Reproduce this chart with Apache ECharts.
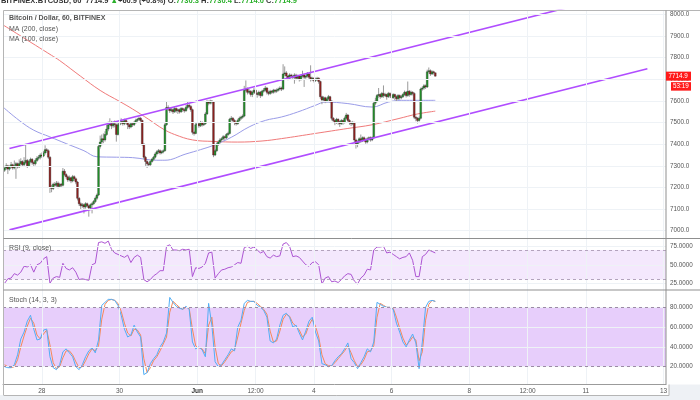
<!DOCTYPE html>
<html>
<head>
<meta charset="utf-8">
<script src="https://cdn.jsdelivr.net/npm/echarts@6/dist/echarts.min.js"></script>
<style>html,body{margin:0;padding:0;background:#fff}#c{width:700px;height:400px}</style>
</head>
<body>
<div id="c"></div>
<script>
// ---------------- DATA ----------------
// hours are counted from 1 Jun 00:00; first candle at hour -119 (27 May 01:00), hourly
const CANDLE_START_HOUR = -119;
// [open, close, low, high]
const candles = [
[7280,7290,7272,7300],[7290,7300,7282,7312],[7300,7285,7262,7305],[7285,7295,7278,7302],[7295,7305,7288,7318],[7305,7290,7282,7310],[7290,7300,7284,7325],[7300,7310,7240,7318],[7310,7295,7288,7315],[7295,7310,7290,7330],
[7310,7320,7302,7335],[7320,7305,7298,7326],[7305,7315,7296,7340],[7315,7325,7308,7400],[7325,7300,7290,7332],[7300,7320,7295,7328],[7320,7330,7312,7338],[7330,7315,7305,7336],[7315,7310,7295,7322],[7310,7325,7302,7335],
[7325,7335,7318,7345],[7335,7340,7326,7350],[7340,7350,7330,7358],[7350,7345,7336,7362],[7345,7360,7340,7368],[7360,7375,7352,7395],[7375,7370,7360,7382],[7370,7340,7332,7376],[7340,7200,7175,7345],[7200,7195,7178,7212],
[7195,7215,7188,7222],[7215,7210,7200,7225],[7210,7220,7202,7230],[7220,7205,7196,7228],[7205,7215,7198,7222],[7215,7210,7200,7220],[7210,7275,7205,7290],[7275,7260,7252,7285],[7260,7250,7240,7266],[7250,7235,7226,7256],
[7235,7245,7228,7255],[7245,7230,7220,7250],[7230,7250,7224,7258],[7250,7240,7230,7256],[7240,7225,7215,7246],[7225,7150,7140,7230],[7150,7125,7115,7156],[7125,7115,7100,7132],[7115,7120,7106,7128],[7120,7110,7080,7126],
[7110,7125,7102,7132],[7125,7115,7108,7130],[7115,7105,7065,7120],[7105,7120,7098,7126],[7120,7125,7080,7132],[7125,7135,7118,7142],[7135,7150,7128,7158],[7150,7165,7142,7172],[7165,7390,7160,7400],[7390,7410,7380,7440],
[7410,7425,7395,7445],[7425,7420,7405,7450],[7420,7445,7412,7460],[7445,7470,7438,7490],[7470,7490,7460,7505],[7490,7500,7482,7520],[7500,7485,7470,7508],[7485,7495,7476,7506],[7495,7490,7478,7510],[7490,7445,7412,7496],
[7445,7490,7440,7498],[7490,7500,7484,7525],[7500,7505,7492,7520],[7505,7495,7486,7512],[7495,7510,7488,7518],[7510,7500,7492,7516],[7500,7490,7470,7506],[7490,7480,7470,7496],[7480,7495,7474,7502],[7495,7490,7480,7500],
[7490,7500,7484,7508],[7500,7510,7494,7518],[7510,7515,7502,7522],[7515,7520,7508,7528],[7520,7510,7500,7526],[7510,7400,7392,7514],[7400,7340,7330,7406],[7340,7320,7300,7346],[7320,7310,7290,7326],[7310,7305,7296,7318],
[7305,7320,7300,7326],[7320,7330,7314,7336],[7330,7340,7322,7346],[7340,7355,7334,7362],[7355,7365,7348,7372],[7365,7370,7356,7378],[7370,7360,7352,7376],[7360,7365,7354,7372],[7365,7370,7358,7376],[7370,7490,7366,7498],
[7490,7570,7485,7600],[7570,7565,7555,7580],[7565,7555,7545,7572],[7555,7560,7548,7568],[7560,7550,7540,7566],[7550,7565,7545,7574],[7565,7555,7546,7570],[7555,7560,7540,7566],[7560,7550,7542,7565],[7550,7565,7545,7572],
[7565,7560,7550,7570],[7560,7555,7546,7566],[7555,7570,7550,7580],[7570,7580,7562,7600],[7580,7575,7566,7588],[7575,7560,7550,7582],[7560,7455,7445,7565],[7455,7450,7440,7462],[7450,7490,7446,7498],[7490,7495,7482,7502],
[7495,7485,7476,7500],[7485,7500,7480,7508],[7500,7490,7482,7506],[7490,7495,7484,7502],[7495,7540,7490,7548],[7540,7595,7535,7605],[7595,7590,7580,7602],[7590,7600,7584,7606],[7600,7595,7585,7604],[7595,7350,7340,7598],
[7350,7370,7345,7378],[7370,7400,7364,7408],[7400,7410,7392,7418],[7410,7420,7402,7428],[7420,7425,7412,7432],[7425,7435,7418,7442],[7435,7430,7420,7440],[7430,7445,7424,7452],[7445,7450,7438,7458],[7450,7515,7445,7522],
[7515,7520,7506,7530],[7520,7510,7500,7526],[7510,7500,7488,7516],[7500,7495,7486,7506],[7495,7510,7490,7518],[7510,7520,7504,7528],[7520,7525,7512,7532],[7525,7530,7518,7538],[7530,7650,7525,7670],[7650,7655,7640,7695],
[7655,7640,7630,7662],[7640,7645,7632,7655],[7645,7630,7620,7650],[7630,7640,7618,7648],[7640,7650,7634,7660],[7650,7635,7625,7656],[7635,7630,7615,7642],[7630,7640,7622,7648],[7640,7625,7614,7646],[7625,7645,7620,7652],
[7645,7650,7638,7660],[7650,7660,7644,7670],[7660,7640,7630,7665],[7640,7635,7626,7648],[7635,7645,7628,7652],[7645,7640,7632,7650],[7640,7650,7634,7656],[7650,7645,7636,7655],[7645,7650,7638,7658],[7650,7655,7644,7662],
[7655,7660,7648,7668],[7660,7655,7646,7666],[7655,7725,7650,7770],[7725,7730,7715,7760],[7730,7715,7705,7738],[7715,7705,7696,7722],[7705,7720,7700,7728],[7720,7715,7705,7726],[7715,7710,7700,7722],[7710,7720,7680,7728],
[7720,7705,7696,7726],[7705,7715,7698,7722],[7715,7700,7690,7720],[7700,7715,7694,7722],[7715,7720,7708,7740],[7720,7710,7665,7726],[7710,7715,7702,7722],[7715,7725,7708,7734],[7725,7710,7700,7730],[7710,7700,7690,7765],
[7700,7705,7692,7712],[7705,7695,7686,7710],[7695,7700,7688,7708],[7700,7705,7692,7712],[7705,7690,7680,7710],[7690,7620,7610,7694],[7620,7605,7585,7625],[7605,7615,7598,7622],[7615,7600,7590,7620],[7600,7610,7594,7618],
[7610,7620,7602,7628],[7620,7600,7592,7624],[7600,7520,7510,7604],[7520,7510,7500,7526],[7510,7500,7488,7516],[7500,7515,7494,7522],[7515,7505,7490,7520],[7505,7495,7480,7510],[7495,7510,7490,7516],[7510,7500,7490,7514],
[7500,7520,7496,7528],[7520,7535,7514,7545],[7535,7510,7500,7540],[7510,7500,7490,7516],[7500,7495,7484,7506],[7495,7500,7488,7508],[7500,7420,7410,7504],[7420,7400,7380,7426],[7400,7410,7386,7418],[7410,7425,7404,7432],
[7425,7415,7406,7445],[7415,7430,7410,7436],[7430,7420,7412,7436],[7420,7410,7402,7428],[7410,7425,7404,7432],[7425,7430,7416,7436],[7430,7420,7412,7436],[7420,7430,7414,7436],[7430,7590,7426,7598],[7590,7600,7580,7615],
[7600,7625,7594,7632],[7625,7630,7615,7660],[7630,7620,7610,7636],[7620,7635,7614,7642],[7635,7625,7615,7672],[7625,7630,7618,7638],[7630,7620,7606,7634],[7620,7635,7614,7642],[7635,7625,7616,7640],[7625,7615,7600,7630],
[7615,7630,7610,7636],[7630,7620,7604,7634],[7620,7610,7596,7626],[7610,7625,7604,7632],[7625,7615,7606,7630],[7615,7620,7608,7628],[7620,7630,7614,7636],[7630,7640,7624,7648],[7640,7625,7616,7645],[7625,7645,7620,7690],
[7645,7630,7620,7650],[7630,7640,7624,7648],[7640,7635,7626,7645],[7635,7525,7516,7640],[7525,7520,7506,7532],[7520,7510,7496,7526],[7510,7520,7504,7528],[7520,7655,7515,7662],[7655,7660,7648,7668],[7660,7670,7652,7678],
[7670,7665,7656,7676],[7665,7735,7660,7745],[7735,7740,7726,7755],[7740,7725,7716,7746],[7725,7735,7720,7742],[7735,7730.3,7722,7740],[7730.3,7714.9,7714.0,7730.4]
];

// moving averages
const ma200Hours = [-120,-110,-100,-90,-85,-72,-60,-48,-40,-30,-21,-14,-3,10,25,40,52,73,93,108,124,136,147];
const ma200 = [7952,7905,7858,7811,7787,7714,7649,7598,7563,7515,7470,7445,7420,7413,7410,7415,7426,7450,7473,7490,7518,7540,7553];
const ma100Hours = [-120,-110,-101,-91,-81,-70,-62,-50,-40,-25,-20,-7,2,10,21,32,42,52,62,73,79,93,108,118,126,147];
const ma100 = [7572,7510,7465,7434,7403,7370,7342,7340,7338,7326,7326,7355,7375,7395,7432,7480,7510,7526,7549,7580,7595,7588,7572,7595,7603,7603];

// parallel channel (two drawn trend lines)
const channelHours = [-116, 278];
const channelUpper = [7380, 8125];
const channelLower = [7004, 7749];

// oscillators, one reading every 2 hours starting at hour -119
const OSC_START_HOUR = -119, OSC_STEP = 2;
const rsi = [25,31,32,38,36,40,48,47,50,40, 50,52,58,61,25,32,34,33,52,45, 43,46,40,30,31,30,29,50,52,80,
 81,79,82,71,66,64,62,60,63,53, 60,63,60,30,27,30,35,38,42,42, 75,77,70,70,69,71,70,71,34,46,
 45,47,52,66,67,32,38,43,44,46, 47,50,53,52,73,75,72,74,70,66, 68,61,59,63,61,62,78,80,75,61,
 62,60,55,50,48,53,54,50,24,32, 34,27,28,26,30,35,38,37,28,24, 32,36,44,43,70,74,74,75,66,67,
 64,61,58,60,61,66,56,34,34,61, 64,70,68,66];
const stochK = [20,19,19,22,32,48,55,66,72,58, 47,48,57,58,30,19,17,22,35,38, 34,30,20,17,22,30,36,39,34,47,
 82,85,88,88,87,82,72,58,50,52, 62,55,50,12,14,23,28,32,40,45, 54,90,85,81,79,78,81,78,45,38,
 40,37,30,84,62,25,20,22,27,32, 38,36,60,67,84,87,86,86,82,80, 77,70,46,44,48,62,72,74,70,60,
 62,54,47,56,66,70,55,46,23,22, 20,21,26,30,33,38,44,28,24,18, 24,30,38,35,45,85,83,81,80,80,
 78,64,55,45,40,47,53,44,18,45, 80,86,87,86];
const stochD = [22,20,19,20,27,40,51,61,69,64, 52,48,53,57,42,24,18,20,29,36, 36,32,25,19,20,26,33,38,36,41,
 68,83,87,88,87,84,76,64,54,51, 58,57,52,28,14,19,26,30,36,43, 50,75,86,83,80,78,80,79,58,41,
 39,38,33,62,70,40,23,21,25,30, 35,37,50,64,77,85,86,86,84,81, 78,73,56,45,46,56,68,73,71,64,
 61,57,50,53,62,68,61,50,32,23, 21,21,24,28,32,36,41,34,26,20, 22,27,35,36,41,70,84,82,80,80,
 79,70,59,49,42,45,50,47,26,35, 67,83,87,86];

// ticks
const priceTicks = [7000,7100,7200,7300,7400,7500,7600,7700,7800,7900,8000];
const rsiTicks = [25,50,75];
const stochTicks = [20,40,60,80];
const timeTicks = [-96,-48,0,36,72,120,168,204,240,288];
const timeLabels = ['28','30','Jun','12:00','4','6','8','12:00','11','13'];
const rsiBand = [30,70];
const stochBand = [20,80];
const headerChange = '+60.9 (+0.8%)';
const countdown = '53:19';

// ---------------- CHART ----------------
const X_MIN = -120, X_MAX = 289.5;
const FONT = 'Liberation Sans, Arial, sans-serif';
const candleData = candles.map((c, i) => [CANDLE_START_HOUR + i, c[0], c[1], c[2], c[3]]);
const oscHour = i => OSC_START_HOUR + OSC_STEP * i;
const pairs = (hs, vs) => vs.map((v, i) => [hs[i], v]);
const osc = arr => arr.map((v, i) => [oscHour(i), v]);

const chart = echarts.init(document.getElementById('c'), null, {renderer: 'canvas'});

function renderCandle(params, api) {
  const x = api.value(0), o = api.value(1), c = api.value(2), lo = api.value(3), hi = api.value(4);
  const pH = api.coord([x, hi]), pL = api.coord([x, lo]);
  const pO = api.coord([x, o]), pC = api.coord([x, c]);
  const w = Math.max(api.size([1, 0])[0] * 1.1, 1.6);
  const up = c >= o;
  const top = Math.min(pO[1], pC[1]);
  const bh = Math.max(Math.abs(pO[1] - pC[1]), 1);
  return {
    type: 'group',
    children: [
      {type: 'line', shape: {x1: pH[0], y1: pH[1], x2: pL[0], y2: pL[1]}, style: {stroke: '#9a9a9a', lineWidth: 1}},
      {type: 'rect', shape: {x: pO[0] - w / 2, y: top, width: w, height: bh},
       style: {fill: up ? '#22962a' : '#93201f', stroke: '#2a2a2a', lineWidth: 0.35}}
    ]
  };
}

const gridLine = {color: '#eef2f6', width: 1, type: 'solid'};
function bgSeries(gi, y0, hLines, extra) {
  const data = timeTicks.map(v => ({xAxis: v, lineStyle: gridLine}))
    .concat(hLines.map(v => ({yAxis: v, lineStyle: gridLine})));
  const s = {
    type: 'line', xAxisIndex: gi, yAxisIndex: gi, data: [[X_MIN, y0]], showSymbol: false,
    lineStyle: {opacity: 0}, silent: true, z: 0,
    markLine: {silent: true, symbol: ['none', 'none'], label: {show: false}, animation: false, data: data}
  };
  if (extra) extra(s);
  return s;
}

const xAxes = [0, 1, 2].map(i => ({
  type: 'value', gridIndex: i, min: X_MIN, max: X_MAX, show: i === 2,
  axisLine: {show: true, lineStyle: {color: '#9b9b9b'}},
  axisTick: {show: true, customValues: timeTicks, length: 3, inside: true, lineStyle: {color: '#9b9b9b'}},
  axisLabel: {show: true, customValues: timeTicks, fontSize: 6.5, color: '#555', fontFamily: FONT, margin: 4,
    formatter: v => { const k = timeTicks.indexOf(v); const t = k >= 0 ? timeLabels[k] : ''; return t === 'Jun' ? '{b|Jun}' : t; },
    rich: {b: {fontWeight: 'bold', fontSize: 6.5, color: '#333', fontFamily: FONT}}},
  splitLine: {show: false}
}));

function yAxis(gi, min, max, ticks, digits) {
  return {
    type: 'value', gridIndex: gi, position: 'right', min: min, max: max,
    axisLine: {show: false},
    axisTick: {show: true, customValues: ticks, length: 3, lineStyle: {color: '#9b9b9b'}},
    axisLabel: {show: true, customValues: ticks, fontSize: 6.3, color: '#555', fontFamily: FONT, margin: 4,
      formatter: v => v.toFixed(digits)},
    splitLine: {show: false}
  };
}

const option = {
  animation: false,
  backgroundColor: '#ffffff',
  grid: [
    {left: 3, right: 34, top: 10.5, height: 228},
    {left: 3, right: 34, top: 238.5, height: 51.5},
    {left: 3, right: 34, top: 290, height: 94}
  ],
  xAxis: xAxes,
  yAxis: [
    yAxis(0, 6964, 8018.5, priceTicks, 1),
    yAxis(1, 15.9, 85.5, rsiTicks, 4),
    yAxis(2, 2.5, 97.5, stochTicks, 4)
  ],
  series: [
    bgSeries(0, 7500, priceTicks),
    {type: 'custom', xAxisIndex: 0, yAxisIndex: 0, renderItem: renderCandle, data: candleData,
     encode: {x: 0, y: [1, 2, 3, 4]}, z: 3, clip: true},
    {type: 'line', xAxisIndex: 0, yAxisIndex: 0, data: pairs(ma200Hours, ma200), smooth: 0.4, showSymbol: false,
     lineStyle: {color: '#f07a7a', width: 1}, z: 2},
    {type: 'line', xAxisIndex: 0, yAxisIndex: 0, data: pairs(ma100Hours, ma100), smooth: 0.4, showSymbol: false,
     lineStyle: {color: '#9a9ce8', width: 1}, z: 2},
    {type: 'line', xAxisIndex: 0, yAxisIndex: 0, data: pairs(channelHours, channelUpper), showSymbol: false,
     lineStyle: {color: '#b04dff', width: 1.6}, z: 4, clip: true},
    {type: 'line', xAxisIndex: 0, yAxisIndex: 0, data: pairs(channelHours, channelLower), showSymbol: false,
     lineStyle: {color: '#b04dff', width: 1.6}, z: 4, clip: true},
    bgSeries(1, 50, rsiTicks, s => {
      s.markArea = {silent: true, itemStyle: {color: '#f4e8fd'}, data: [[{yAxis: rsiBand[0]}, {yAxis: rsiBand[1]}]]};
      s.markLine.data = s.markLine.data.concat(rsiBand.map(v => ({yAxis: v, lineStyle: {color: '#b3a3bd', type: [3, 3], width: 1}})));
    }),
    {type: 'line', xAxisIndex: 1, yAxisIndex: 1, data: osc(rsi), showSymbol: false,
     lineStyle: {color: '#ad55d3', width: 1}, z: 3},
    bgSeries(2, 50, stochTicks, s => {
      s.markArea = {silent: true, itemStyle: {color: '#e7cefb'}, data: [[{yAxis: stochBand[0]}, {yAxis: stochBand[1]}]]};
      s.markLine.data = s.markLine.data.concat(stochBand.map(v => ({yAxis: v, lineStyle: {color: '#9c8aa6', type: [3, 3], width: 1}})));
    }),
    {type: 'line', xAxisIndex: 2, yAxisIndex: 2, data: osc(stochK), showSymbol: false,
     lineStyle: {color: '#52aef5', width: 1}, z: 4},
    {type: 'line', xAxisIndex: 2, yAxisIndex: 2, data: osc(stochD), showSymbol: false,
     lineStyle: {color: '#f5895a', width: 1}, z: 3}
  ]
};
chart.setOption(option);

// ---- decorations: panel frame, legends, price tag ----
const last = candles[candles.length - 1];
const lastY = chart.convertToPixel({gridIndex: 0}, [0, last[1]])[1];
const frame = '#8f8f8f';
const ln = (x1, y1, x2, y2, c, w) => ({type: 'line', silent: true, z: 50,
  shape: {x1, y1, x2, y2}, style: {stroke: c || frame, lineWidth: w || 1}});
const txt = (x, y, t, opt, z) => ({type: 'text', silent: true, z: z || 60, x, y,
  style: Object.assign({text: t, fontSize: 7, fontFamily: FONT, fill: '#555', verticalAlign: 'middle'}, opt || {})});

const fmt = v => v.toFixed(1);
chart.setOption({
  graphic: [
    {type: 'rect', silent: true, z: 40, shape: {x: 0, y: 395, width: 700, height: 5}, style: {fill: '#eef1f5'}},
    {type: 'rect', silent: true, z: 40, shape: {x: 669, y: 384.5, width: 31, height: 16}, style: {fill: '#eef1f5'}},
    ln(3.5, 10.5, 700, 10.5, '#b5b5b5'),
    ln(3.5, 10.5, 3.5, 395, '#b5b5b5'),
    ln(3.5, 238.5, 700, 238.5),
    ln(3.5, 290, 700, 290),
    ln(666, 10.5, 666, 384.5),
    ln(3.5, 395.5, 669, 395.5, '#b5b5b5'),
    ln(669, 384.5, 669, 395.5, '#b5b5b5'),
    {type: 'text', silent: true, z: 60, x: 1, y: 0.8,
     style: {text: '{d|BITFINEX:BTCUSD, 60  ' + fmt(last[1]) + ' }{g|▲}{d|' + headerChange + ' O:}{g|' + fmt(last[0]) +
       '}{d| H:}{g|' + fmt(last[3]) + '}{d| L:}{g|' + fmt(last[2]) + '}{d| C:}{g|' + fmt(last[1]) + '}',
       verticalAlign: 'middle', fontFamily: FONT, fontSize: 7.5,
       rich: {d: {fill: '#333', fontSize: 7.5, fontFamily: FONT, fontWeight: 'bold'},
              g: {fill: '#2bb02b', fontSize: 7.5, fontFamily: FONT, fontWeight: 'bold'}}}},
    txt(9, 18.5, 'Bitcoin / Dollar, 60, BITFINEX', {fontWeight: 'bold'}),
    txt(9, 29, 'MA (200, close)'),
    txt(9, 39, 'MA (100, close)'),
    txt(9, 248.5, 'RSI (9, close)'),
    txt(9, 300, 'Stoch (14, 3, 3)'),
    {type: 'rect', silent: true, z: 70, shape: {x: 666, y: lastY - 4.5, width: 25, height: 9}, style: {fill: '#ff1a1a'}},
    txt(668.5, lastY, fmt(last[1]), {fill: '#fff', fontSize: 6.3}, 80),
    {type: 'rect', silent: true, z: 70, shape: {x: 671, y: lastY + 6, width: 20, height: 8.5}, style: {fill: '#ff1a1a'}},
    txt(673, lastY + 10.3, countdown, {fill: '#fff', fontSize: 6.3}, 80)
  ]
});
</script>
</body>
</html>
